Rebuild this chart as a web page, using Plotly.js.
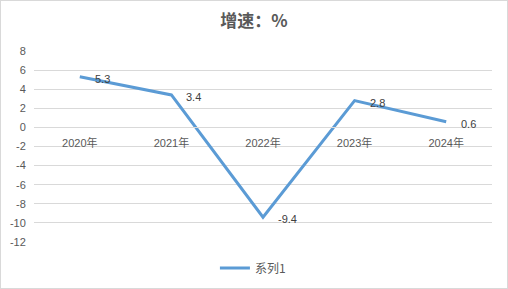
<!DOCTYPE html>
<html><head><meta charset="utf-8">
<script src="https://cdn.plot.ly/plotly-3.0.1.min.js"></script>
<style>html,body{margin:0;padding:0;background:#fff}#wrap{position:relative;width:508px;height:289px}#chart{width:508px;height:289px}#border{position:absolute;left:0;top:0;width:508px;height:289px;box-sizing:border-box;border:1px solid #d9d9d9;pointer-events:none}</style>
</head><body>
<div id="wrap"><div id="chart"></div><div id="border"></div></div>
<script>
const categories = ['2020年','2021年','2022年','2023年','2024年'];
const values = [5.3, 3.4, -9.4, 2.8, 0.6];
const seriesName = '系列1';
const chartTitle = '增速：%';
const yTickVals = [8, 6, 4, 2, 0, -2, -4, -6, -8, -10, -12];
const yTickText = ['8', '6', '4', '2', '0', '-2', '-4', '-6', '-8', '-10', '-12'];

const trace = {
  x: categories, y: values, name: seriesName, type: 'scatter', mode: 'lines',
  line: {color: '#5b9bd5', width: 3}
};
const labelAnnotations = categories.map((c, i) => ({
  x: c, y: values[i], xref: 'x', yref: 'y', text: values[i].toFixed(1), showarrow: false,
  xanchor: 'left', yanchor: 'middle', xshift: 13, yshift: -2,
  font: {family: 'Liberation Sans, Arial, sans-serif', size: 11, color: '#404040'}
}));
const layout = {
  width: 508, height: 289,
  margin: {l: 34, r: 16, t: 51, b: 47, autoexpand: false},
  paper_bgcolor: '#fff', plot_bgcolor: '#fff',
  title: {text: chartTitle, x: 0.5, xanchor: 'center', y: 1 - 21/289, yanchor: 'middle', yref: 'container',
    font: {family: 'Noto Sans CJK SC, sans-serif', size: 17, color: '#595959', weight: 'bold'}},
  xaxis: {type: 'category', range: [-0.5, 4.5], anchor: 'free', position: 0.6, showgrid: false, zeroline: false,
    showline: true, linecolor: '#d9d9d9', linewidth: 1, ticks: 'outside', ticklen: 5, tickcolor: 'rgba(0,0,0,0)',
    tickfont: {family: 'Liberation Sans, Noto Sans CJK SC, sans-serif', size: 11, color: '#595959'},
    fixedrange: true, automargin: false},
  yaxis: {range: [-12, 8], tickmode: 'array', tickvals: yTickVals, ticktext: yTickText,
    showgrid: true, gridcolor: '#d9d9d9', gridwidth: 1,
    zeroline: true, zerolinecolor: '#d9d9d9', zerolinewidth: 1, showline: false,
    ticks: 'outside', ticklen: 5, tickcolor: 'rgba(0,0,0,0)',
    tickfont: {family: 'Liberation Sans, sans-serif', size: 11, color: '#595959'}, fixedrange: true, automargin: false},
  annotations: labelAnnotations,
  showlegend: true,
  legend: {orientation: 'h', x: 0.478, xanchor: 'center', y: -0.136, yanchor: 'middle',
    font: {family: 'Noto Sans CJK SC, sans-serif', size: 12, color: '#595959'}}
};
Plotly.newPlot('chart', [trace], layout, {staticPlot: true});
</script>
</body></html>
